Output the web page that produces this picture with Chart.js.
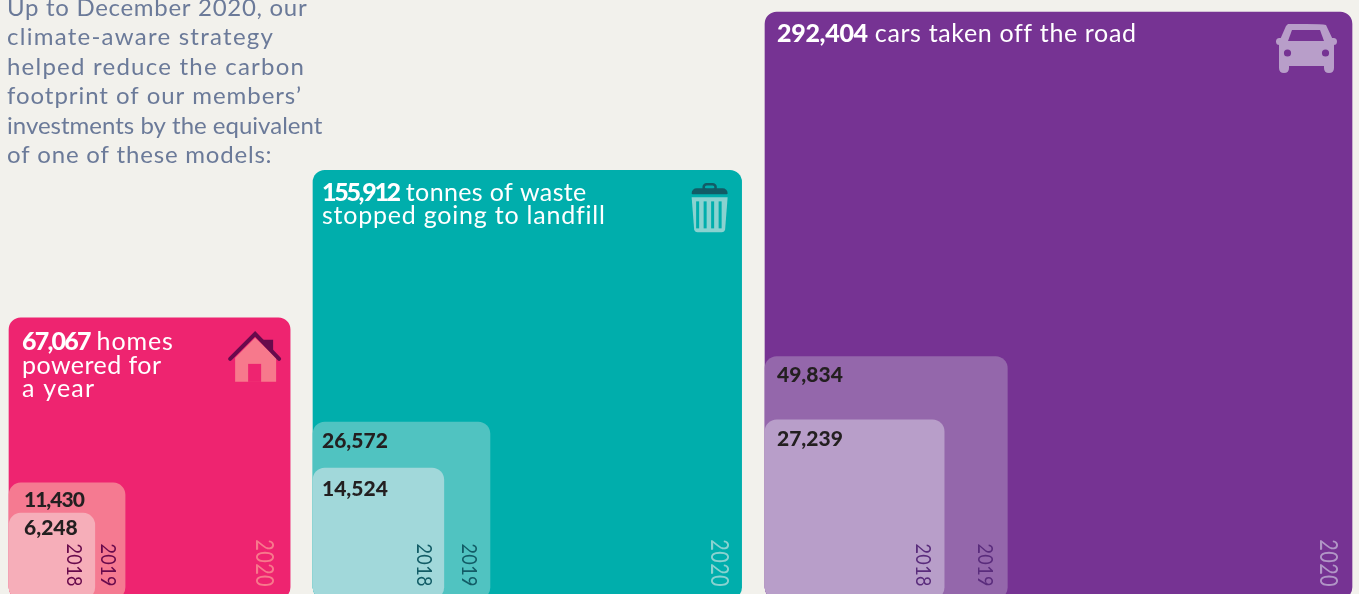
<!DOCTYPE html>
<html>
<head>
<meta charset="utf-8">
<title>Carbon footprint equivalents</title>
<script src="https://cdn.jsdelivr.net/npm/chart.js@4"></script>
<style>
    html, body { margin: 0; padding: 0; background: #f2f1ec; overflow: hidden; }
    canvas { display: block; }
</style>
</head>
<body>
<canvas id="footprintChart" width="1359" height="594"></canvas>
<script>
const categories = ['homes', 'waste', 'cars'];
const years = ['2018', '2019', '2020'];
const values2018 = [6248, 14524, 27239];
const values2019 = [11430, 26572, 49834];
const values2020 = [67067, 155912, 292404];
const seriesByYear = [values2018, values2019, values2020];

const introLines = [
    'Up to December 2020, our',
    'climate-aware strategy',
    'helped reduce the carbon',
    'footprint of our members\u2019',
    'investments by the equivalent',
    'of one of these models:',
];
const headlineLines = [
    ['homes', 'powered for', 'a year'],
    ['tonnes of waste', 'stopped going to landfill'],
    ['cars taken off the road'],
];

// left edge of each panel, in x axis units
const panelLeft = [9, 313, 765];
// area of a square is what encodes the value, so the side is the root
const pxPerUnit = 587 / Math.sqrt(292404);
const baseline = 599;

const colors = {
    homes: { fills: ['#f6aeb9', '#f57a91', '#ee2470'], yearText: ['#680a4c', '#680a4c', '#f7798c'] },
    waste: { fills: ['#a1d8da', '#50c3c1', '#00aeac'], yearText: ['#125c66', '#125c66', '#8ad2d0'] },
    cars: { fills: ['#b89ec9', '#9467ab', '#763393'], yearText: ['#5a2c7c', '#5a2c7c', '#b196c6'] },
};
// x distance of the rotated year from the right edge, y distance of the figure from the top
const yearInset = { homes: [21, 17, 26], waste: [20, 21, 23], cars: [21, 22, 24] };
const yearFontSize = [20, 20, 22];
const valueInset = { homes: [15, 17], waste: [20.5, 19], cars: [19, 18] };
const valueLeft = { homes: 15, waste: 9, cars: 12 };
const headlineLeft = { homes: 13, waste: 9, cars: 12 };
const headlineTop = { homes: 32.5, waste: 30.5, cars: 30 };

// tracking per line of text, so the copy keeps its line lengths
const introSpacing = [0.7, 1.26, 1.23, 0.94, 0, 0.8];
const headlineSpacing = [[0.9, 0.45, 1.2], [0.37, 0.78], [0.64]];
const figureSpacing = [-1.8, -2.3, -0.3];
const smallFigureSpacing = { homes: [0, -1], waste: [0, 0], cars: [0, 0] };

const FONT = 'Lato, sans-serif';

function buildDatasets() {
    const datasets = [];
    // first dataset is painted last, so 2018 ends up on top
    years.forEach((year, y) => {
        categories.forEach((name, c) => {
            const side = Math.sqrt(seriesByYear[y][c]);
            const size = side * pxPerUnit;
            datasets.push({
                label: name + ' ' + year,
                data: [{ x: panelLeft[c] + size / 2, y: [0, side] }],
                backgroundColor: colors[name].fills[y],
                barThickness: size,
                borderRadius: 12,
                borderSkipped: false,
                borderWidth: 0,
                grouped: false,
                category: c,
                yearIndex: y,
            });
        });
    });
    return datasets;
}

function drawText(ctx, text, x, y, font, color, spacing) {
    ctx.font = font;
    ctx.fillStyle = color;
    ctx.letterSpacing = spacing + 'px';
    ctx.textAlign = 'left';
    ctx.textBaseline = 'alphabetic';
    ctx.fillText(text, x, y);
    return ctx.measureText(text).width;
}

function drawHouse(ctx, right, top, fill, dark, hole) {
    ctx.save();
    ctx.translate(right - 35, top + 15);
    ctx.fillStyle = fill;
    ctx.beginPath();
    ctx.moveTo(0, 5);
    ctx.lineTo(21, 25);
    ctx.lineTo(21, 49);
    ctx.lineTo(-20, 49);
    ctx.lineTo(-20, 25);
    ctx.closePath();
    ctx.fill();
    ctx.fillStyle = hole;
    ctx.fillRect(-7, 31, 13, 18);
    ctx.fillStyle = dark;
    ctx.beginPath();
    ctx.moveTo(6, 7);
    ctx.lineTo(18, 7);
    ctx.lineTo(18, 20);
    ctx.closePath();
    ctx.fill();
    ctx.strokeStyle = dark;
    ctx.lineWidth = 4;
    ctx.lineCap = 'round';
    ctx.lineJoin = 'miter';
    ctx.beginPath();
    ctx.moveTo(-25, 26);
    ctx.lineTo(0, 1);
    ctx.lineTo(24, 26);
    ctx.stroke();
    ctx.restore();
}

function drawBin(ctx, right, top, fill, dark, hole) {
    ctx.save();
    ctx.translate(right - 32, top + 13);
    ctx.fillStyle = dark;
    ctx.beginPath();
    ctx.roundRect(-18, 5, 36, 6, [5, 5, 1, 1]);
    ctx.fill();
    ctx.strokeStyle = dark;
    ctx.lineWidth = 2.5;
    ctx.beginPath();
    ctx.roundRect(-6, 1, 12, 6, 4);
    ctx.stroke();
    ctx.fillStyle = fill;
    ctx.beginPath();
    ctx.moveTo(-18, 14);
    ctx.lineTo(18, 14);
    ctx.lineTo(15.5, 46);
    ctx.quadraticCurveTo(15, 49, 12, 49);
    ctx.lineTo(-12, 49);
    ctx.quadraticCurveTo(-15, 49, -15.5, 46);
    ctx.closePath();
    ctx.fill();
    ctx.fillStyle = hole;
    [-13.5, -6, 1.5, 9].forEach(x => ctx.fillRect(x, 18, 3, 27));
    ctx.restore();
}

function drawCar(ctx, right, top, fill, hole) {
    ctx.save();
    ctx.translate(right - 46, top + 12);
    ctx.fillStyle = fill;
    ctx.beginPath();
    ctx.roundRect(-30, 14, 14, 7, 3.5);
    ctx.roundRect(16, 14, 15, 7, 3.5);
    ctx.fill();
    ctx.beginPath();
    ctx.moveTo(-18, 0);
    ctx.quadraticCurveTo(-16, 0, 0, 0);
    ctx.quadraticCurveTo(16, 0, 20, 1);
    ctx.lineTo(28, 18);
    ctx.lineTo(28, 44);
    ctx.quadraticCurveTo(28, 49, 23, 49);
    ctx.quadraticCurveTo(18, 49, 18, 44);
    ctx.lineTo(18, 42);
    ctx.lineTo(-17, 42);
    ctx.lineTo(-17, 44);
    ctx.quadraticCurveTo(-17, 49, -22, 49);
    ctx.quadraticCurveTo(-27, 49, -27, 44);
    ctx.lineTo(-27, 18);
    ctx.lineTo(-20, 2);
    ctx.closePath();
    ctx.fill();
    ctx.fillStyle = hole;
    ctx.beginPath();
    ctx.moveTo(-14, 6);
    ctx.lineTo(14, 6);
    ctx.lineTo(18, 17);
    ctx.lineTo(-18, 17);
    ctx.closePath();
    ctx.fill();
    ctx.beginPath();
    ctx.arc(-18.5, 29, 3.6, 0, Math.PI * 2);
    ctx.arc(19.5, 29, 3.6, 0, Math.PI * 2);
    ctx.fill();
    ctx.restore();
}

const annotationPlugin = {
    id: 'panelAnnotations',
    afterDatasetsDraw(chart) {
        const ctx = chart.ctx;
        ctx.save();

        introLines.forEach((line, i) => {
            drawText(ctx, line, 7, 16 + i * 29.4, '400 24px ' + FONT, '#6b7a99', introSpacing[i]);
        });

        chart.data.datasets.forEach((ds, d) => {
            const bar = chart.getDatasetMeta(d).data[0];
            const name = categories[ds.category];
            const left = bar.x - bar.width / 2;
            const right = bar.x + bar.width / 2;
            const value = seriesByYear[ds.yearIndex][ds.category].toLocaleString('en-US');

            // rotated year along the right edge, digits a bit narrower than the font's
            ctx.save();
            ctx.translate(right - yearInset[name][ds.yearIndex], 587);
            ctx.rotate(Math.PI / 2);
            ctx.scale(0.9, 1.1);
            ctx.font = '400 ' + yearFontSize[ds.yearIndex] + 'px ' + FONT;
            ctx.fillStyle = colors[name].yearText[ds.yearIndex];
            ctx.letterSpacing = '0.5px';
            ctx.textAlign = 'right';
            ctx.textBaseline = 'middle';
            ctx.fillText(years[ds.yearIndex], 0, 0);
            ctx.restore();

            if (ds.yearIndex < 2) {
                const y = bar.y + valueInset[name][ds.yearIndex] + 7;
                drawText(ctx, value, left + valueLeft[name], y, '900 21px ' + FONT, '#231f20',
                    smallFigureSpacing[name][ds.yearIndex]);
                return;
            }

            // headline, figure in heavy weight then the description
            const lines = headlineLines[ds.category];
            lines.forEach((line, i) => {
                const y = bar.y + headlineTop[name] + i * 23.5;
                let x = left + headlineLeft[name];
                if (i === 0) {
                    x += drawText(ctx, value, x, y, '900 25px ' + FONT, '#ffffff', figureSpacing[ds.category]) + 7;
                }
                drawText(ctx, line, x, y, '400 25px ' + FONT, '#ffffff', headlineSpacing[ds.category][i]);
            });

            if (name === 'homes') drawHouse(ctx, right, bar.y, '#f7798c', '#680a4c', colors.homes.fills[2]);
            if (name === 'waste') drawBin(ctx, right, bar.y, '#8ad2d0', '#125c66', colors.waste.fills[2]);
            if (name === 'cars') drawCar(ctx, right, bar.y, colors.cars.fills[0], colors.cars.fills[2]);
        });

        ctx.restore();
    },
};

const ctx = document.getElementById('footprintChart').getContext('2d');
new Chart(ctx, {
    type: 'bar',
    data: { datasets: buildDatasets() },
    plugins: [annotationPlugin],
    options: {
        responsive: false,
        animation: false,
        events: [],
        layout: { padding: 0 },
        plugins: { legend: { display: false }, tooltip: { enabled: false } },
        scales: {
            x: { type: 'linear', display: false, offset: false, min: 0, max: 1359 },
            y: {
                type: 'linear',
                display: false,
                min: (baseline - 594) / pxPerUnit,
                max: baseline / pxPerUnit,
            },
        },
    },
});
</script>
</body>
</html>
